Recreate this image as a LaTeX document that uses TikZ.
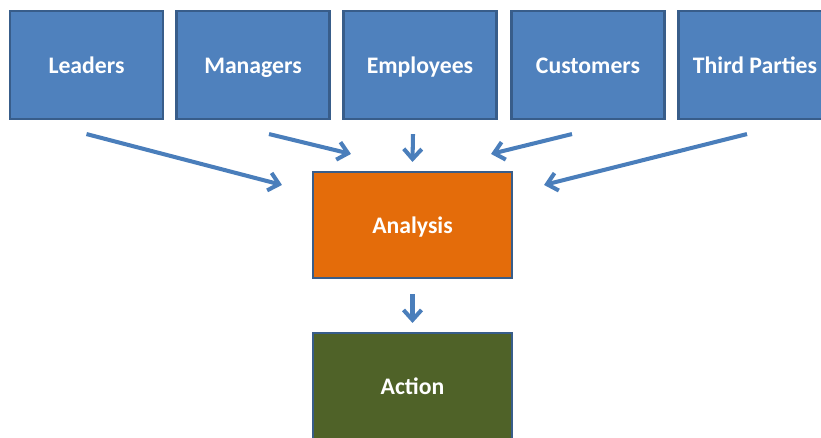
\documentclass[tikz,border=0pt]{standalone}
\usepackage{fontspec}
\setmainfont{Carlito}
\usepackage{xcolor}
\usetikzlibrary{calc,arrows.meta}

\definecolor{boxblue}{HTML}{4F81BD}
\definecolor{edgeblue}{HTML}{385D8A}
\definecolor{arrowblue}{HTML}{4A7EBB}
\definecolor{boxorange}{HTML}{E46C0A}
\definecolor{boxolive}{HTML}{4F6228}

\begin{document}
\begin{tikzpicture}[x=0.02cm,y=-0.02cm,
  src/.style={draw=edgeblue,line width=1.2pt,fill=boxblue,minimum width=3.06cm,minimum height=2.16cm,
    text=white,font=\fontsize{13.5}{16}\selectfont\bfseries,text height=0.92em,text depth=0pt},
  big/.style={src,minimum width=3.98cm,minimum height=2.12cm},
  flow/.style={draw=arrowblue,line width=2.3pt,-{Straight Barb[length=0.2cm,width=0.36cm]}}]
\clip (0,0) rectangle (821,437);
% sources
\node[src] (lead) at (86.5,65) {Leaders};
\node[src] (man) at (253,65) {Managers};
\node[src] (emp) at (420,65) {Employees};
\node[src] (cust) at (588,65) {Customers};
\node[src] (third) at (755,65) {Third Parties};
% middle and bottom
\node[big,fill=boxorange] (ana) at (412.5,225) {Analysis};
\node[big,fill=boxolive] (act) at (412.5,386) {Action};
% arrows into analysis
\draw[flow] ($(lead.south)+(0,14)$) -- ($(ana.north west)+(-30,14)$);
\draw[flow] ($(man.south)+(16,14)$) -- ($(ana.north west)+(39,-17)$);
\draw[flow] ($(emp.south)+(-7,14)$) -- ($(ana.north)+(0,-9)$);
\draw[flow] ($(cust.south)+(-16,14)$) -- ($(ana.north east)+(-22,-17)$);
\draw[flow] ($(third.south)+(-8,14)$) -- ($(ana.north east)+(31,14)$);
\draw[flow] ($(ana.south)+(0,15)$) -- ($(act.north)+(0,-9)$);
\end{tikzpicture}
\end{document}
